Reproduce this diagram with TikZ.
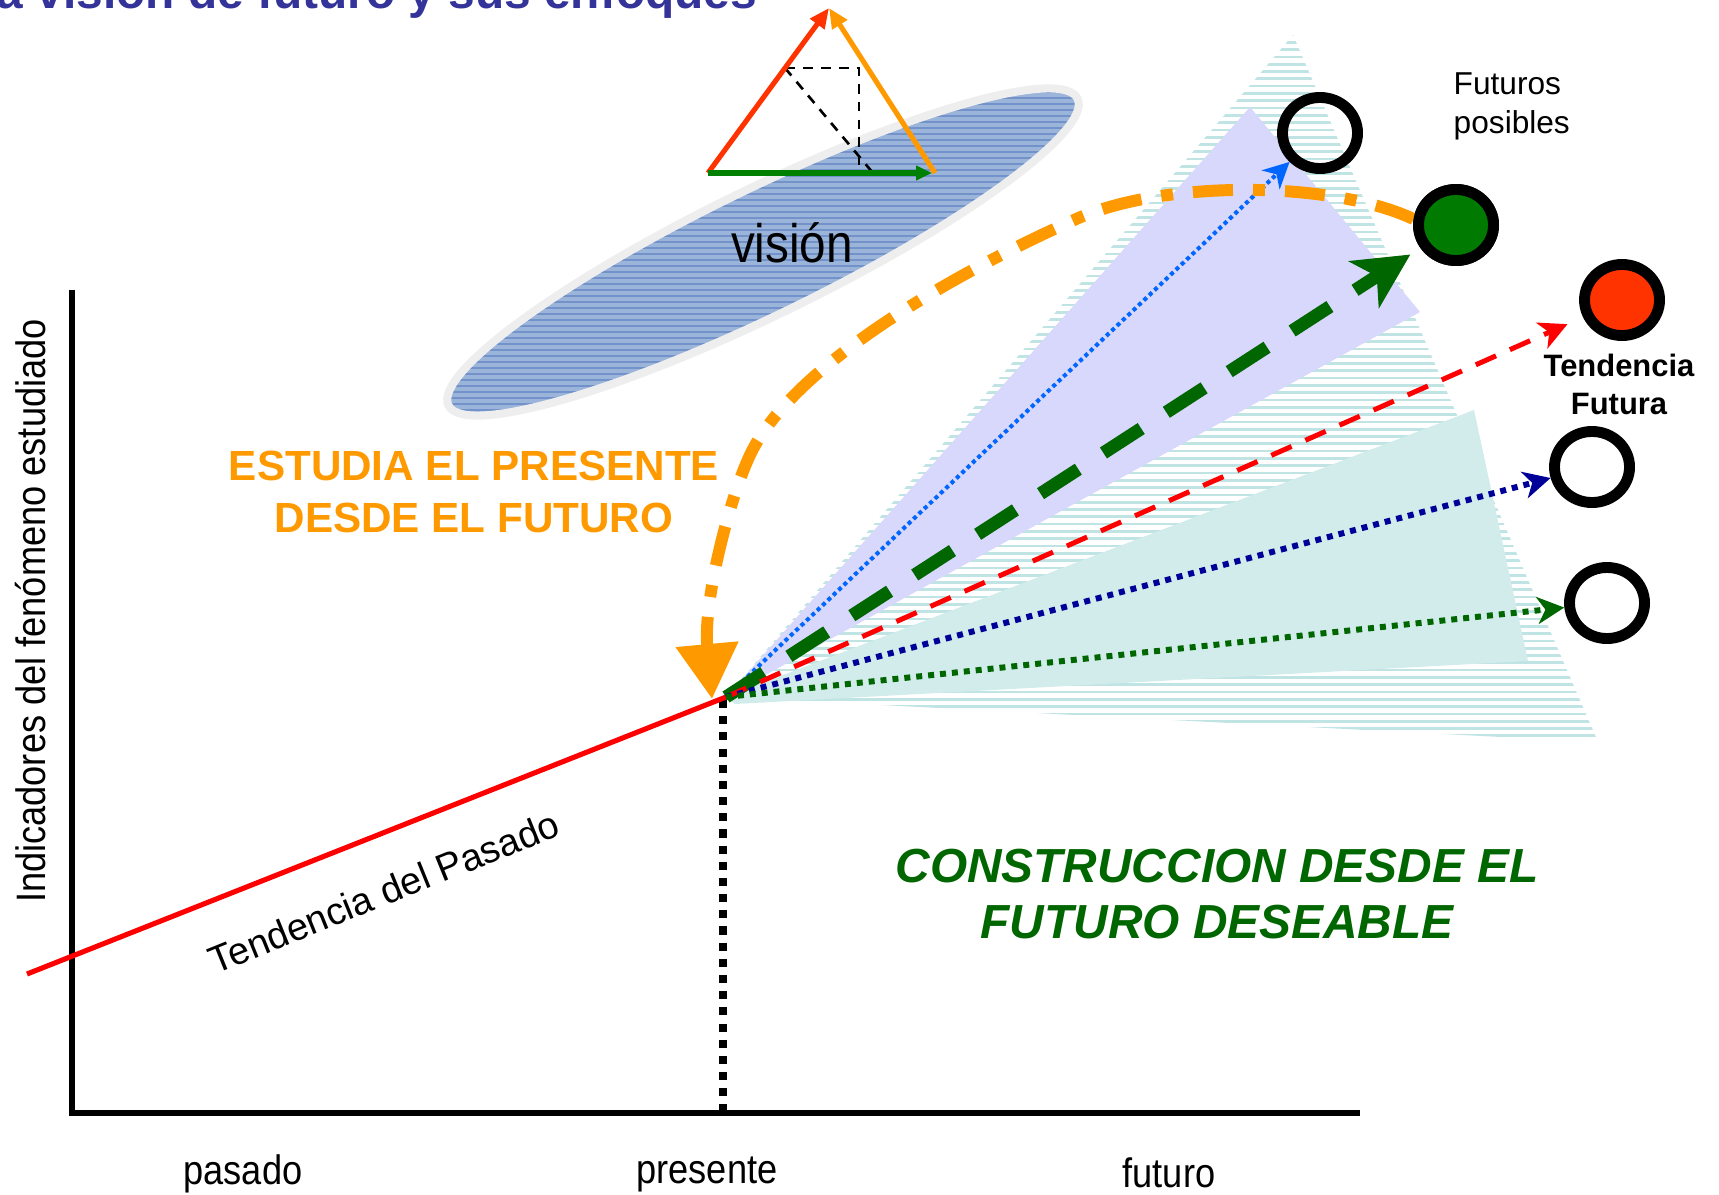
\documentclass[tikz,border=0pt]{standalone}
\usepackage{fontspec}
\setmainfont{Liberation Sans}
\usepackage{graphicx}
\usetikzlibrary{arrows.meta,shapes.geometric}
\definecolor{ttl}{RGB}{51,51,153}
\definecolor{orng}{RGB}{255,153,0}
\definecolor{redor}{RGB}{255,51,0}
\definecolor{grn}{RGB}{0,128,0}
\definecolor{dgrn}{RGB}{0,102,0}
\definecolor{cgrn}{RGB}{0,122,0}
\definecolor{bdot}{RGB}{0,102,255}
\definecolor{dblue}{RGB}{0,0,153}
\definecolor{stripec}{RGB}{192,227,227}
\definecolor{lav}{RGB}{216,216,252}
\definecolor{lcyan}{RGB}{210,236,236}
\definecolor{ellfill}{RGB}{155,180,218}
\definecolor{elline}{RGB}{115,146,202}
\definecolor{ellbord}{RGB}{238,238,238}
\begin{document}
\begin{tikzpicture}[x=0.01cm,y=-0.01cm,
  cond/.style={inner sep=0, font=\fontsize{11.7}{14}\selectfont},
  ring/.style={shape=ellipse, draw=black, line width=3.1pt, inner sep=0,
    minimum width=0.75cm, minimum height=0.71cm},
  axisline/.style={line width=1.7pt, line join=miter, line cap=rect},
  tri/.style={line width=1.45pt},
  dashblk/.style={line width=0.75pt, dash pattern=on 2.8pt off 2.3pt},
  stripe/.style={stripec, line width=0.75pt},
]
\useasboundingbox (0,0) rectangle (1719,1194);

% title (cut at top)
\node[anchor=base west, inner sep=0, text=ttl, font=\bfseries\fontsize{13.6}{16}\selectfont] (title) at (-33,9) {La visión de futuro y sus enfoques};

% key point
\coordinate (O) at (726,697);

% striped cone
\begin{scope}
  \clip (O) -- (1293,35) -- (1598,742) -- cycle;
  \foreach \i in {0,...,98} { \draw[stripe] (700,35+\i*7.3) -- (1620,35+\i*7.3); }
\end{scope}
% lavender cone
\fill[lav] (O) -- (1250,107) -- (1420,312) -- cycle;
% lower cyan cone
\fill[lcyan] (O) -- (1474,410) -- (1528,661) -- (735,704) -- cycle;

% vision ellipse
\begin{scope}
  \clip[rotate around={26:(763,252)}] (763,252) ellipse [x radius=350, y radius=63];
  \fill[ellfill] (380,50) rectangle (1150,460);
  \foreach \i in {0,...,68} { \draw[elline, line width=0.45pt] (380,50+\i*6) -- (1150,50+\i*6); }
\end{scope}
\draw[ellbord, line width=2.3pt, rotate around={26:(763,252)}] (763,252) ellipse [x radius=350, y radius=63];
\node[inner sep=0, font=\fontsize{15.4}{18}\selectfont] (vision) at (792,243) {\scalebox{0.88}[1]{visión}};

% triangle of vectors
\coordinate (tA) at (708,173);
\coordinate (tT) at (829,8);
\coordinate (tB) at (935,173);
\coordinate (tP) at (785,68);
\coordinate (tQ) at (859,68);
\coordinate (tR) at (859,173);
\coordinate (tS) at (873,173);
\coordinate (tG) at (932,173);
\draw[dashblk] (tP) -- (tQ) -- (tR);
\draw[dashblk] (tP) -- (tS);
\draw[tri, redor, -{Triangle[length=0.2cm,width=0.17cm]}] (tA) -- (tT);
\draw[tri, orng, -{Triangle[length=0.2cm,width=0.17cm]}] (tB) -- (tT);
\draw[tri, grn, -{Triangle[length=0.16cm,width=0.14cm]}] (tA) -- (tG);

% axes
\coordinate (ytop) at (72,293);
\coordinate (orig) at (72,1113);
\coordinate (xend) at (1357,1113);
\draw[axisline] (ytop) -- (orig) -- (xend);

% present dotted line
\coordinate (Ob) at (723,700);
\coordinate (Obase) at (723,1110);
\draw[line width=2.3pt, dash pattern=on 2.3pt off 2.3pt] (Ob) -- (Obase);

% past trend
\coordinate (pastS) at (27,974);
\draw[red, line width=1.45pt] (pastS) -- (O);

% future circles
\node[ring] (c1) at (1320,133) {};
\node[ring, fill=cgrn] (c2) at (1456,225) {};
\node[ring, fill=redor] (c3) at (1622,300) {};
\node[ring] (c4) at (1592,467) {};
\node[ring] (c5) at (1607,603) {};

% arrows from present
\draw[bdot, line width=1.15pt, dash pattern=on 1.15pt off 0.95pt,
  -{Stealth[length=0.26cm,width=0.26cm,inset=0.08cm]}] (O) -- (c1);
\draw[dgrn, line width=3.7pt, dash pattern=on 12.8pt off 8.5pt, shorten >=0.12cm,
  -{Stealth[length=0.55cm,width=0.55cm,inset=0.15cm]}] (O) -- (c2);
\draw[red, line width=1.42pt, dash pattern=on 6.3pt off 4.3pt, shorten >=0.17cm,
  -{Stealth[length=0.28cm,width=0.28cm,inset=0.08cm]}] (O) -- (c3);
\draw[dblue, line width=1.7pt, dash pattern=on 1.7pt off 1.7pt,
  -{Stealth[length=0.27cm,width=0.27cm,inset=0.08cm]}] (O) -- (c4);
\draw[dgrn, line width=1.7pt, dash pattern=on 1.7pt off 1.7pt,
  -{Stealth[length=0.27cm,width=0.27cm,inset=0.08cm]}] (O) -- (c5);

% orange curve from the desired future to present
\coordinate (Oarr) at (712,699);
\draw[orng, line width=3.4pt, dash pattern=on 11.4pt off 5.7pt on 3.4pt off 5.7pt,
  -{Triangle[length=0.55cm,width=0.6cm]}]
  (c2.172) .. controls (1330,180) and (1160,180) .. (1074,220)
  .. controls (940,280) and (790,370) .. (750,455)
  .. controls (730,497) and (703,600) .. (Oarr);
\node[ring, fill=cgrn] (c2b) at (1456,225) {};

% texts
\node[anchor=west, align=left, inner sep=0, font=\fontsize{9}{11.1}\selectfont] (futpos) at (1453,106) {Futuros\\posibles};
\node[align=center, inner sep=0, font=\bfseries\fontsize{8.8}{10.8}\selectfont] (tendfut) at (1619,384) {Tendencia\\Futura};
\node[align=center, inner sep=0, text=orng, font=\bfseries\fontsize{12}{14.65}\selectfont] (estudia) at (474,492) {ESTUDIA EL PRESENTE\\DESDE EL FUTURO};
\node[align=center, inner sep=0, text=dgrn, font=\bfseries\itshape\fontsize{13.6}{15.9}\selectfont] (constr) at (1217,894) {CONSTRUCCION DESDE EL\\FUTURO DESEABLE};
\node[rotate=22, inner sep=0, font=\fontsize{10.8}{13}\selectfont] (tpas) at (384,892) {Tendencia del Pasado};
\node[cond, rotate=90] (ylab) at (31,611) {\scalebox{0.88}[1]{Indicadores del fenómeno estudiado}};
\node[cond] (pasado) at (243,1174) {\scalebox{0.88}[1]{pasado}};
\node[cond] (presente) at (707,1174) {\scalebox{0.88}[1]{presente}};
\node[cond] (futuro) at (1169,1173) {\scalebox{0.88}[1]{futuro}};
\end{tikzpicture}
\end{document}
